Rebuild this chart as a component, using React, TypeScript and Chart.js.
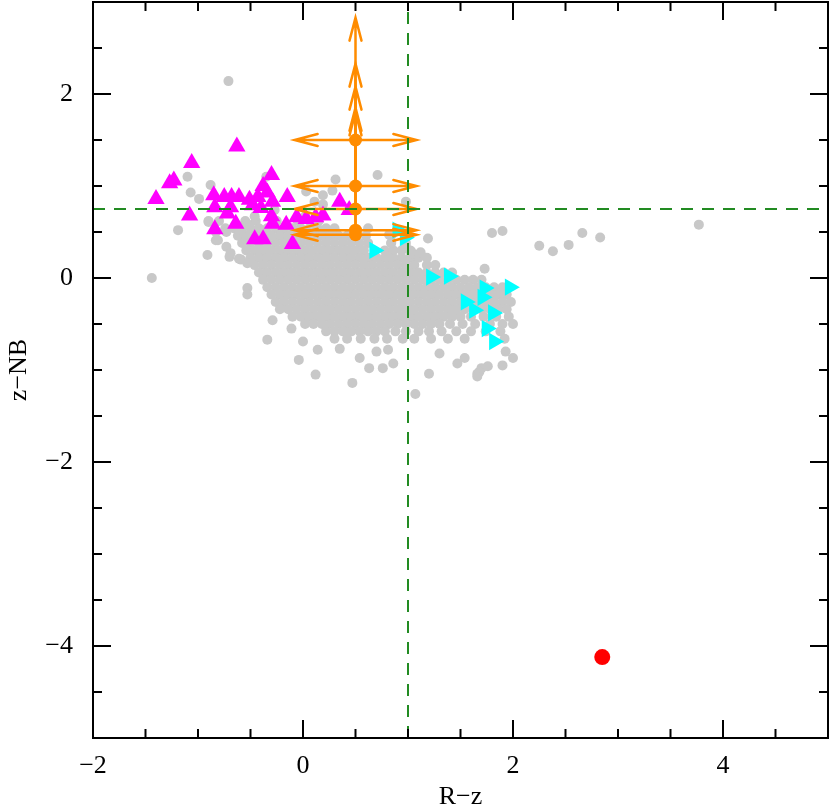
import React, { useEffect, useRef } from "react";
import { Chart, registerables } from "chart.js";

Chart.register(...registerables);

// ---- axes ----
const xRange = [-2, 5];
const yRange = [-5, 3];
const tickStep = 0.5;
const labelStep = 2;
const xTitle = "R\u2212z";
const yTitle = "z\u2212NB";

// ---- selection cuts (green dashed) ----
const xCut = 1.0;
const yCut = 0.75;

// ---- gray sample: dense core read as rows [y, x-values] ----
const grayRows: [number, number[]][] = [
  [0.62, [-0.9, -0.8, -0.55, -0.45, -0.25, -0.05, 0.15]],
  [0.54, [-0.74, -0.66, -0.58, -0.5, -0.42, -0.34, -0.26, -0.18, -0.1, -0.02, 0.06, 0.14, 0.22, 0.3, 0.62]],
  [0.46, [-0.62, -0.54, -0.46, -0.38, -0.3, -0.22, -0.14, -0.06, 0.02, 0.1, 0.18, 0.26, 0.34, 0.42, 0.6, 0.84]],
  [0.38, [-0.58, -0.5, -0.42, -0.34, -0.26, -0.18, -0.1, -0.02, 0.06, 0.14, 0.22, 0.3, 0.38, 0.46, 0.54, 0.62, 0.84, 0.98]],
  [0.3, [-0.54, -0.46, -0.38, -0.3, -0.22, -0.14, -0.06, 0.02, 0.1, 0.18, 0.26, 0.34, 0.42, 0.5, 0.58, 0.78, 0.86, 0.94, 1.02]],
  [0.22, [-0.5, -0.42, -0.34, -0.26, -0.18, -0.1, -0.02, 0.06, 0.14, 0.22, 0.3, 0.38, 0.46, 0.54, 0.62, 0.7, 0.78, 0.86, 0.94, 1.02, 1.1, 1.18]],
  [0.14, [-0.46, -0.38, -0.3, -0.22, -0.14, -0.06, 0.02, 0.1, 0.18, 0.26, 0.34, 0.42, 0.5, 0.58, 0.66, 0.74, 0.82, 0.9, 0.98, 1.06, 1.18, 1.26]],
  [0.06, [-0.42, -0.34, -0.26, -0.18, -0.1, -0.02, 0.06, 0.14, 0.22, 0.3, 0.38, 0.46, 0.54, 0.62, 0.7, 0.78, 0.86, 0.94, 1.02, 1.1, 1.18, 1.26, 1.34, 1.42]],
  [-0.02, [-0.38, -0.3, -0.22, -0.14, -0.06, 0.02, 0.1, 0.18, 0.26, 0.34, 0.42, 0.5, 0.58, 0.66, 0.74, 0.82, 0.9, 0.98, 1.06, 1.14, 1.22, 1.3, 1.38, 1.46, 1.54, 1.62, 1.7]],
  [-0.1, [-0.34, -0.26, -0.18, -0.1, -0.02, 0.06, 0.14, 0.22, 0.3, 0.38, 0.46, 0.54, 0.62, 0.7, 0.78, 0.86, 0.94, 1.02, 1.1, 1.18, 1.26, 1.34, 1.42, 1.5, 1.58, 1.66, 1.74, 1.82, 1.9]],
  [-0.18, [-0.3, -0.22, -0.14, -0.06, 0.02, 0.1, 0.18, 0.26, 0.34, 0.42, 0.5, 0.58, 0.66, 0.74, 0.82, 0.9, 0.98, 1.06, 1.14, 1.22, 1.3, 1.38, 1.46, 1.54, 1.62, 1.7, 1.78, 1.86, 1.94]],
  [-0.26, [-0.26, -0.18, -0.1, -0.02, 0.06, 0.14, 0.22, 0.3, 0.38, 0.46, 0.54, 0.62, 0.7, 0.78, 0.86, 0.94, 1.02, 1.1, 1.18, 1.26, 1.34, 1.42, 1.5, 1.58, 1.66, 1.74, 1.82, 1.9, 1.98]],
  [-0.34, [-0.22, -0.14, -0.06, 0.02, 0.1, 0.18, 0.26, 0.34, 0.42, 0.5, 0.58, 0.66, 0.74, 0.82, 0.9, 0.98, 1.06, 1.14, 1.22, 1.3, 1.38, 1.46, 1.54, 1.62, 1.7, 1.78, 1.86, 1.94]],
  [-0.42, [-0.1, -0.02, 0.06, 0.14, 0.22, 0.3, 0.38, 0.46, 0.54, 0.62, 0.7, 0.78, 0.86, 0.94, 1.02, 1.1, 1.18, 1.26, 1.34, 1.42, 1.5, 1.6, 1.72, 1.84, 1.96]],
  [-0.5, [0.02, 0.1, 0.18, 0.26, 0.34, 0.42, 0.5, 0.58, 0.66, 0.74, 0.82, 0.9, 0.98, 1.06, 1.14, 1.22, 1.3, 1.4, 1.52, 1.64, 1.78, 1.9, 2.0]],
  [-0.58, [0.22, 0.3, 0.38, 0.46, 0.54, 0.62, 0.7, 0.78, 0.88, 0.98, 1.1, 1.2, 1.32, 1.46, 1.6, 1.74, 1.88]],
  [-0.66, [0.3, 0.42, 0.55, 0.68, 0.8, 0.95, 1.06, 1.22, 1.38, 1.54, 1.92]],
];

// ---- gray sample: scattered points outside the core ----
const grayScattered: [number, number][] = [
  [-1.44, 0.0], [-0.71, 2.14],
  [1.9, 0.51], [2.25, 0.35], [2.38, 0.29], [2.53, 0.36], [2.66, 0.49], [2.83, 0.44], [3.77, 0.58],
  [1.8, 0.49], [1.19, 0.43], [1.73, 0.1], [1.12, 0.28], [1.04, 0.26],
  [0.47, -1.14], [1.07, -1.26], [1.2, -1.04], [1.47, -0.93], [1.54, -0.87], [1.66, -1.04],
  [1.7, -0.98], [1.9, -0.95], [2.0, -0.87], [1.93, -0.8], [0.63, -0.98], [0.76, -0.98], [0.86, -0.93],
  [-0.91, 0.25], [-0.83, 0.41], [-0.73, 0.34], [-0.53, -0.11], [-0.53, -0.18], [-0.29, -0.46],
  [-0.34, -0.67], [-0.04, -0.89], [0.12, -1.05], [0.14, -0.78], [0.0, -0.69], [-0.11, -0.55],
  [-0.9, 0.61], [-0.7, 0.23], [-0.59, 0.2], [0.54, -0.87], [0.35, -0.77], [0.7, -0.8], [0.81, -0.78],
  [1.3, -0.82], [1.68, -1.02], [1.66, -1.07], [1.76, -0.96], [-0.69, 0.27],
  [-1.1, 1.1], [-1.07, 0.93], [-0.99, 0.86], [-0.88, 1.01], [-1.19, 0.52], [-0.81, 0.41],
  [-0.61, 0.21], [-0.53, 0.16], [-0.35, 1.1], [0.71, 1.12], [0.31, 1.07], [0.03, 0.94],
  [0.19, 0.9], [0.28, 0.95], [0.11, 0.83], [0.19, 0.8], [0.98, 0.83], [0.02, 0.67],
  [0.82, 0.47], [1.03, 0.29], [0.81, 0.23], [-0.83, 0.5], [-0.73, 0.5], [-0.59, 0.52],
  [-0.53, 0.59], [-0.46, 0.67], [-0.27, 0.74], [0.84, 0.38], [0.98, 0.34],
];

// ---- magenta up-triangles ----
const magentaPoints: [number, number][] = [
  [-0.63, 1.43], [-1.06, 1.25], [-1.23, 1.06], [-1.27, 1.03], [-1.4, 0.86], [-1.08, 0.68],
  [-0.84, 0.53], [-0.85, 0.9], [-0.75, 0.88], [-0.68, 0.88], [-0.61, 0.88], [-0.51, 0.85],
  [-0.43, 0.88], [-0.38, 1.0], [-0.3, 1.12], [-0.15, 0.88], [-0.29, 0.83], [-0.72, 0.7],
  [-0.64, 0.59], [-0.46, 0.42], [-0.38, 0.42], [-0.1, 0.37], [-0.3, 0.67], [-0.29, 0.59],
  [-0.16, 0.58], [-0.06, 0.66], [0.03, 0.64], [0.12, 0.66], [0.19, 0.68], [0.35, 0.83],
  [0.44, 0.74], [-0.84, 0.77], [-0.69, 0.77], [-0.48, 0.79], [-0.4, 0.76], [-0.34, 0.93],
];

// ---- cyan right-triangles ----
const cyanPoints: [number, number][] = [
  [0.9, 0.52], [0.97, 0.44], [0.68, 0.3], [1.22, 0.01], [1.39, 0.02], [1.55, -0.26],
  [1.63, -0.35], [1.73, -0.11], [1.71, -0.21], [1.81, -0.38], [1.75, -0.55], [1.82, -0.69],
  [1.97, -0.1],
];

// ---- orange limits (x undetermined, y lower limit) ----
const orangeX = [0.5, 0.5, 0.5, 0.5, 0.5];
const orangeY = [1.5, 1.0, 0.75, 0.52, 0.47];
const orangeArrowDx = 0.58;
const orangeArrowDy = 1.33;

// ---- red point ----
const redPoints: [number, number][] = [[2.85, -4.12]];

const FONT = "'Liberation Serif', 'DejaVu Serif', serif";
const GREEN = "#228B22";
const ORANGE = "#FF8C00";

const fmt = (v: number) => (v < 0 ? "\u2212" + Math.abs(v) : String(v));
const isLabelled = (v: number) => Math.abs(v % labelStep) < 1e-9;
const toXY = (arr: [number, number][]) => arr.map(([x, y]) => ({ x, y }));

function drawArrow(ctx: CanvasRenderingContext2D, x0: number, y0: number, x1: number, y1: number) {
  const head = 23;
  const half = 6;
  const ang = Math.atan2(y1 - y0, x1 - x0);
  const bx = x1 - head * Math.cos(ang);
  const by = y1 - head * Math.sin(ang);
  const px = -Math.sin(ang) * half;
  const py = Math.cos(ang) * half;
  ctx.beginPath();
  ctx.moveTo(x0, y0);
  ctx.lineTo(x1, y1);
  ctx.moveTo(bx + px, by + py);
  ctx.lineTo(x1, y1);
  ctx.lineTo(bx - px, by - py);
  ctx.stroke();
}

const arrowPlugin = {
  id: "limitArrows",
  beforeDatasetDraw(chart: any, args: any) {
    const ds = chart.data.datasets[args.index];
    if (ds.label !== "orange") return;
    const { ctx, chartArea } = chart;
    const xs = chart.scales.x;
    const ys = chart.scales.y;
    ctx.save();
    ctx.beginPath();
    ctx.rect(chartArea.left, chartArea.top, chartArea.right - chartArea.left, chartArea.bottom - chartArea.top);
    ctx.clip();
    ctx.strokeStyle = ORANGE;
    ctx.lineWidth = 2.5;
    ctx.lineCap = "round";
    orangeX.forEach((x, i) => {
      const y = orangeY[i];
      const px = xs.getPixelForValue(x);
      const py = ys.getPixelForValue(y);
      drawArrow(ctx, px, py, xs.getPixelForValue(x - orangeArrowDx), py);
      drawArrow(ctx, px, py, xs.getPixelForValue(x + orangeArrowDx), py);
      drawArrow(ctx, px, py, px, ys.getPixelForValue(y + orangeArrowDy));
    });
    ctx.restore();
  },
};

const framePlugin = {
  id: "frameTicks",
  afterDraw(chart: any) {
    const { ctx, chartArea } = chart;
    const { left, right, top, bottom } = chartArea;
    const xs = chart.scales.x;
    const ys = chart.scales.y;
    ctx.save();
    ctx.strokeStyle = "#000";
    ctx.lineWidth = 2;
    ctx.lineCap = "butt";
    ctx.strokeRect(left, top, right - left, bottom - top);
    ctx.beginPath();
    xs.ticks.forEach((t: any) => {
      const p = xs.getPixelForValue(t.value);
      const L = isLabelled(t.value) ? 18 : 9;
      ctx.moveTo(p, bottom);
      ctx.lineTo(p, bottom - L);
      ctx.moveTo(p, top);
      ctx.lineTo(p, top + L);
    });
    ys.ticks.forEach((t: any) => {
      const p = ys.getPixelForValue(t.value);
      const L = isLabelled(t.value) ? 18 : 9;
      ctx.moveTo(left, p);
      ctx.lineTo(left + L, p);
      ctx.moveTo(right, p);
      ctx.lineTo(right - L, p);
    });
    ctx.stroke();
    ctx.restore();
  },
};

export default function App() {
  const canvasRef = useRef<HTMLCanvasElement | null>(null);

  useEffect(() => {
    if (!canvasRef.current) return;
    const grayData = [
      ...grayRows.flatMap(([y, xsArr]) => xsArr.map((x) => ({ x, y }))),
      ...toXY(grayScattered),
    ];
    const chart = new Chart(canvasRef.current, {
      type: "scatter",
      data: {
        datasets: [
          {
            label: "cutX",
            data: [{ x: xCut, y: yRange[0] }, { x: xCut, y: yRange[1] }],
            showLine: true,
            borderColor: GREEN,
            borderWidth: 2,
            borderDash: [12, 9],
            pointRadius: 0,
            order: 1,
          },
          {
            label: "cutY",
            data: [{ x: xRange[0], y: yCut }, { x: xRange[1], y: yCut }],
            showLine: true,
            borderColor: GREEN,
            borderWidth: 2,
            borderDash: [12, 9],
            pointRadius: 0,
            order: 1,
          },
          {
            label: "red",
            data: toXY(redPoints),
            backgroundColor: "#FF0000",
            borderWidth: 0,
            pointRadius: 8,
            order: 2,
          },
          {
            label: "orange",
            data: orangeX.map((x, i) => ({ x, y: orangeY[i] })),
            backgroundColor: ORANGE,
            borderWidth: 0,
            pointRadius: 6.5,
            order: 3,
          },
          {
            label: "cyan",
            data: toXY(cyanPoints),
            backgroundColor: "#00FFFF",
            borderWidth: 0,
            pointStyle: "triangle",
            rotation: 90,
            pointRadius: 10,
            order: 4,
          },
          {
            label: "magenta",
            data: toXY(magentaPoints),
            backgroundColor: "#FF00FF",
            borderWidth: 0,
            pointStyle: "triangle",
            pointRadius: 10,
            order: 5,
          },
          {
            label: "gray",
            data: grayData,
            backgroundColor: "#C8C8C8",
            borderWidth: 0,
            pointRadius: 5,
            order: 6,
          },
        ],
      },
      options: {
        animation: false,
        responsive: true,
        maintainAspectRatio: false,
        events: [],
        layout: { autoPadding: false, padding: { top: 2, right: 2, left: 0, bottom: 0 } },
        plugins: {
          legend: { display: false },
          tooltip: { enabled: false },
        },
        scales: {
          x: {
            type: "linear",
            min: xRange[0],
            max: xRange[1],
            grid: { display: false, drawTicks: false },
            border: { display: false },
            ticks: {
              stepSize: tickStep,
              autoSkip: false,
              maxRotation: 0,
              padding: 13,
              color: "#000",
              font: { family: FONT, size: 26 },
              callback: (v: any) => (isLabelled(Number(v)) ? fmt(Number(v)) : ""),
            },
            title: {
              display: true,
              text: xTitle,
              color: "#000",
              font: { family: FONT, size: 26 },
              padding: { top: 0, bottom: -4 },
            },
            afterFit: (s: any) => {
              s.height = 71;
              s.paddingLeft = 0;
              s.paddingRight = 0;
            },
          },
          y: {
            type: "linear",
            min: yRange[0],
            max: yRange[1],
            grid: { display: false, drawTicks: false },
            border: { display: false },
            ticks: {
              stepSize: tickStep,
              autoSkip: false,
              padding: 20,
              color: "#000",
              font: { family: FONT, size: 26 },
              callback: (v: any) => (isLabelled(Number(v)) ? fmt(Number(v)) : ""),
            },
            title: {
              display: true,
              text: yTitle,
              color: "#000",
              font: { family: FONT, size: 26 },
              padding: { top: 4, bottom: 0 },
            },
            afterFit: (s: any) => {
              s.width = 93;
              s.paddingTop = 0;
              s.paddingBottom = 0;
            },
          },
        },
      },
      plugins: [arrowPlugin, framePlugin],
    });
    return () => chart.destroy();
  }, []);

  return (
    <div style={{ position: "absolute", left: 0, top: 0, width: 830, height: 809, background: "#fff" }}>
      <canvas ref={canvasRef} />
    </div>
  );
}
